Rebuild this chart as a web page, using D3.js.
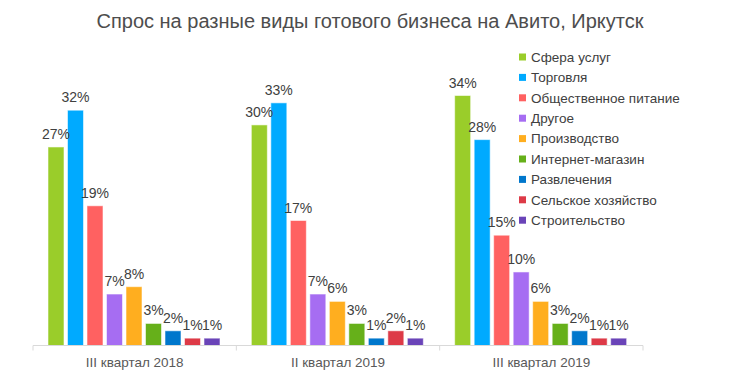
<!DOCTYPE html>
<html><head><meta charset="utf-8">
<script src="https://cdn.jsdelivr.net/npm/d3@7"></script>
<style>body{margin:0;background:#fff}svg{display:block;font-family:"Liberation Sans",Arial,sans-serif}</style>
</head><body><svg id="c" width="740" height="373"></svg>
<script>
const title = "Спрос на разные виды готового бизнеса на Авито, Иркутск";
const categories = ["III квартал 2018", "II квартал 2019", "III квартал 2019"];
const seriesNames = ["Сфера услуг","Торговля","Общественное питание","Другое","Производство","Интернет-магазин","Развлечения","Сельское хозяйство","Строительство"];
const seriesColors = ["#9acd2a","#00aaff","#ff6161","#a66df2","#ffae1f","#66b01a","#0077cc","#dd3a47","#6a44b8"];
const q3_2018 = [27,32,19,7,8,3,2,1,1];
const q2_2019 = [30,33,17,7,6,3,1,2,1];
const q3_2019 = [34,28,15,10,6,3,2,1,1];
const values = [q3_2018, q2_2019, q3_2019];

const svg = d3.select("#c");
const baseY = 345.5;
const x0 = d3.scaleBand().domain(categories).range([33, 643]);
const x1 = d3.scaleBand().domain(seriesNames).range([15, 187]).paddingInner(0.18).paddingOuter(0);
const y = d3.scaleLinear().domain([0, 34]).range([baseY, baseY - 250]);

svg.append("text").attr("x", 370).attr("y", 28).attr("text-anchor","middle")
  .attr("font-size", 20).attr("fill","#4d4d4d").text(title);

const g = svg.selectAll("g.grp").data(categories).join("g")
  .attr("transform", d => `translate(${x0(d)},0)`);

g.each(function(cat, gi){
  const gg = d3.select(this);
  const data = seriesNames.map((s,i)=>({s, v: values[gi][i], c: seriesColors[i]}));
  gg.selectAll("rect").data(data).join("rect")
    .attr("x", d => x1(d.s)).attr("width", x1.bandwidth())
    .attr("y", d => y(d.v)).attr("height", d => baseY - y(d.v))
    .attr("fill", d => d.c).attr("stroke","rgba(255,255,255,0.55)").attr("stroke-width",1);
  gg.selectAll("text").data(data).join("text")
    .attr("x", d => x1(d.s) + x1.bandwidth()/2).attr("y", d => y(d.v) - 8)
    .attr("text-anchor","middle").attr("font-size",14).attr("fill","#404040")
    .text(d => d.v + "%");
});

// axis
const axis = svg.append("g").attr("transform", `translate(0,${baseY})`)
  .call(d3.axisBottom(x0).tickSize(0).tickPadding(12));
axis.select(".domain").attr("stroke","#d9d9d9").attr("d", "M33,0H643");
axis.selectAll(".tick text").attr("font-size",13.5).attr("fill","#595959").attr("font-family","Liberation Sans, Arial, sans-serif");
const bounds = categories.map(c => x0(c)).concat([x0(categories[categories.length-1]) + x0.bandwidth()]);
axis.selectAll("line.sep").data(bounds).join("line").attr("class","sep")
  .attr("x1", d=>d).attr("x2", d=>d).attr("y1",0).attr("y2",5).attr("stroke","#d9d9d9");

// legend
const leg = svg.append("g").selectAll("g").data(seriesNames).join("g")
  .attr("transform", (d,i)=>`translate(519,${57 + i*20.4})`);
leg.append("rect").attr("x",0).attr("y",-3.5).attr("width",7).attr("height",7)
  .attr("fill",(d,i)=>seriesColors[i]);
leg.append("text").attr("x",12).attr("y",0).attr("dy","0.35em").attr("font-size",13.5)
  .attr("fill","#404040").text(d=>d);
</script></body></html>
